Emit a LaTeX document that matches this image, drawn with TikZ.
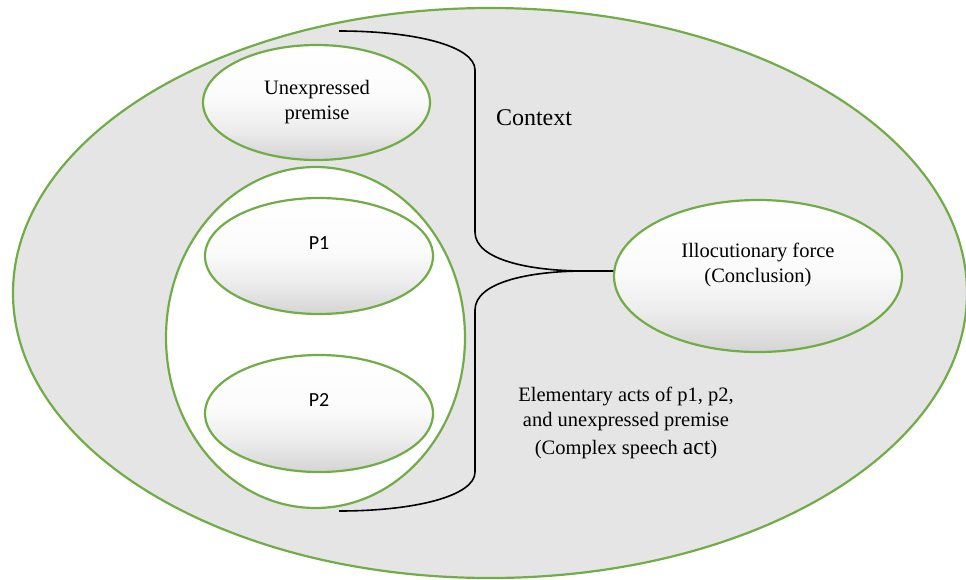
\documentclass[tikz,border=0pt]{standalone}
\usepackage{fontspec}
\setmainfont{Liberation Serif}
\newfontfamily\pfont{Carlito}
\usetikzlibrary{shapes.geometric}
\definecolor{ogreen}{RGB}{112,173,71}
\definecolor{bggray}{RGB}{229,229,229}
\definecolor{shadegray}{RGB}{212,212,212}
\definecolor{shademid}{RGB}{236,236,236}
\definecolor{shadelight}{RGB}{251,251,251}
\pgfdeclareverticalshading{bubbleshade}{100bp}{color(0bp)=(shadegray); color(25bp)=(shadegray); color(38bp)=(shademid); color(52bp)=(shadelight); color(75bp)=(white); color(100bp)=(white)}
\tikzset{
  greenline/.style={draw=ogreen, line width=2.2pt},
  bubble/.style={ellipse, greenline, inner sep=0pt, shading=bubbleshade},
  plainbubble/.style={ellipse, greenline, inner sep=0pt, fill=white},
  bracket/.style={draw=black, line width=1.6pt},
  lbl/.style={inner sep=0pt, align=center, font=\fontsize{20.5}{25}\selectfont},
  plbl/.style={inner sep=0pt, font=\pfont\fontsize{20}{24}\selectfont},
}
\begin{document}
\begin{tikzpicture}[x=1pt,y=-1pt]
\useasboundingbox (0,0) rectangle (966,579);
% outer context ellipse
\node[ellipse, greenline, fill=bggray, inner sep=0pt, minimum width=954pt, minimum height=570pt] (ctx) at (490,293) {};
% group of premises
\node[plainbubble, minimum width=299pt, minimum height=341pt] (grp) at (315.5,337.5) {};
\node[bubble, minimum width=228pt, minimum height=116pt] (p1) at (319,256) {};
\node[bubble, minimum width=228pt, minimum height=117pt] (p2) at (319,413.5) {};
\node[bubble, minimum width=227pt, minimum height=115pt] (unexp) at (316.5,102.5) {};
\node[bubble, minimum width=288pt, minimum height=152pt] (illoc) at (758,276) {};
% bracket
\coordinate (ctop) at (339,31);
\coordinate (cbot) at (339,511);
\coordinate (tip) at (613,271);
\draw[bracket] (ctop) .. controls (415,31) and (475,46) .. (475,70) -- (475,232)
  .. controls (475,260) and (530,271) .. (585,271) -- (tip);
\draw[bracket] (tip) -- (585,271) .. controls (530,271) and (475,282) .. (475,310)
  -- (475,472) .. controls (475,496) and (415,511) .. (cbot);
% texts
\node[lbl] (tunexp) at (317,102) {Unexpressed\\premise};
\node[plbl, anchor=base] (tp1) at (319,249) {P1};
\node[plbl, anchor=base] (tp2) at (319,406) {P2};
\node[inner sep=0pt, anchor=base, font=\fontsize{24}{28}\selectfont] (tctx) at (534,125) {Context};
\node[lbl] (tillo) at (758,265) {Illocutionary force\\(Conclusion)};
\node[lbl, anchor=north] (telem) at (626,387) {Elementary acts of p1, p2,\\and unexpressed premise\\[3pt]
  (Complex speech {\fontsize{23.5}{25}\selectfont act})};
\end{tikzpicture}
\end{document}
